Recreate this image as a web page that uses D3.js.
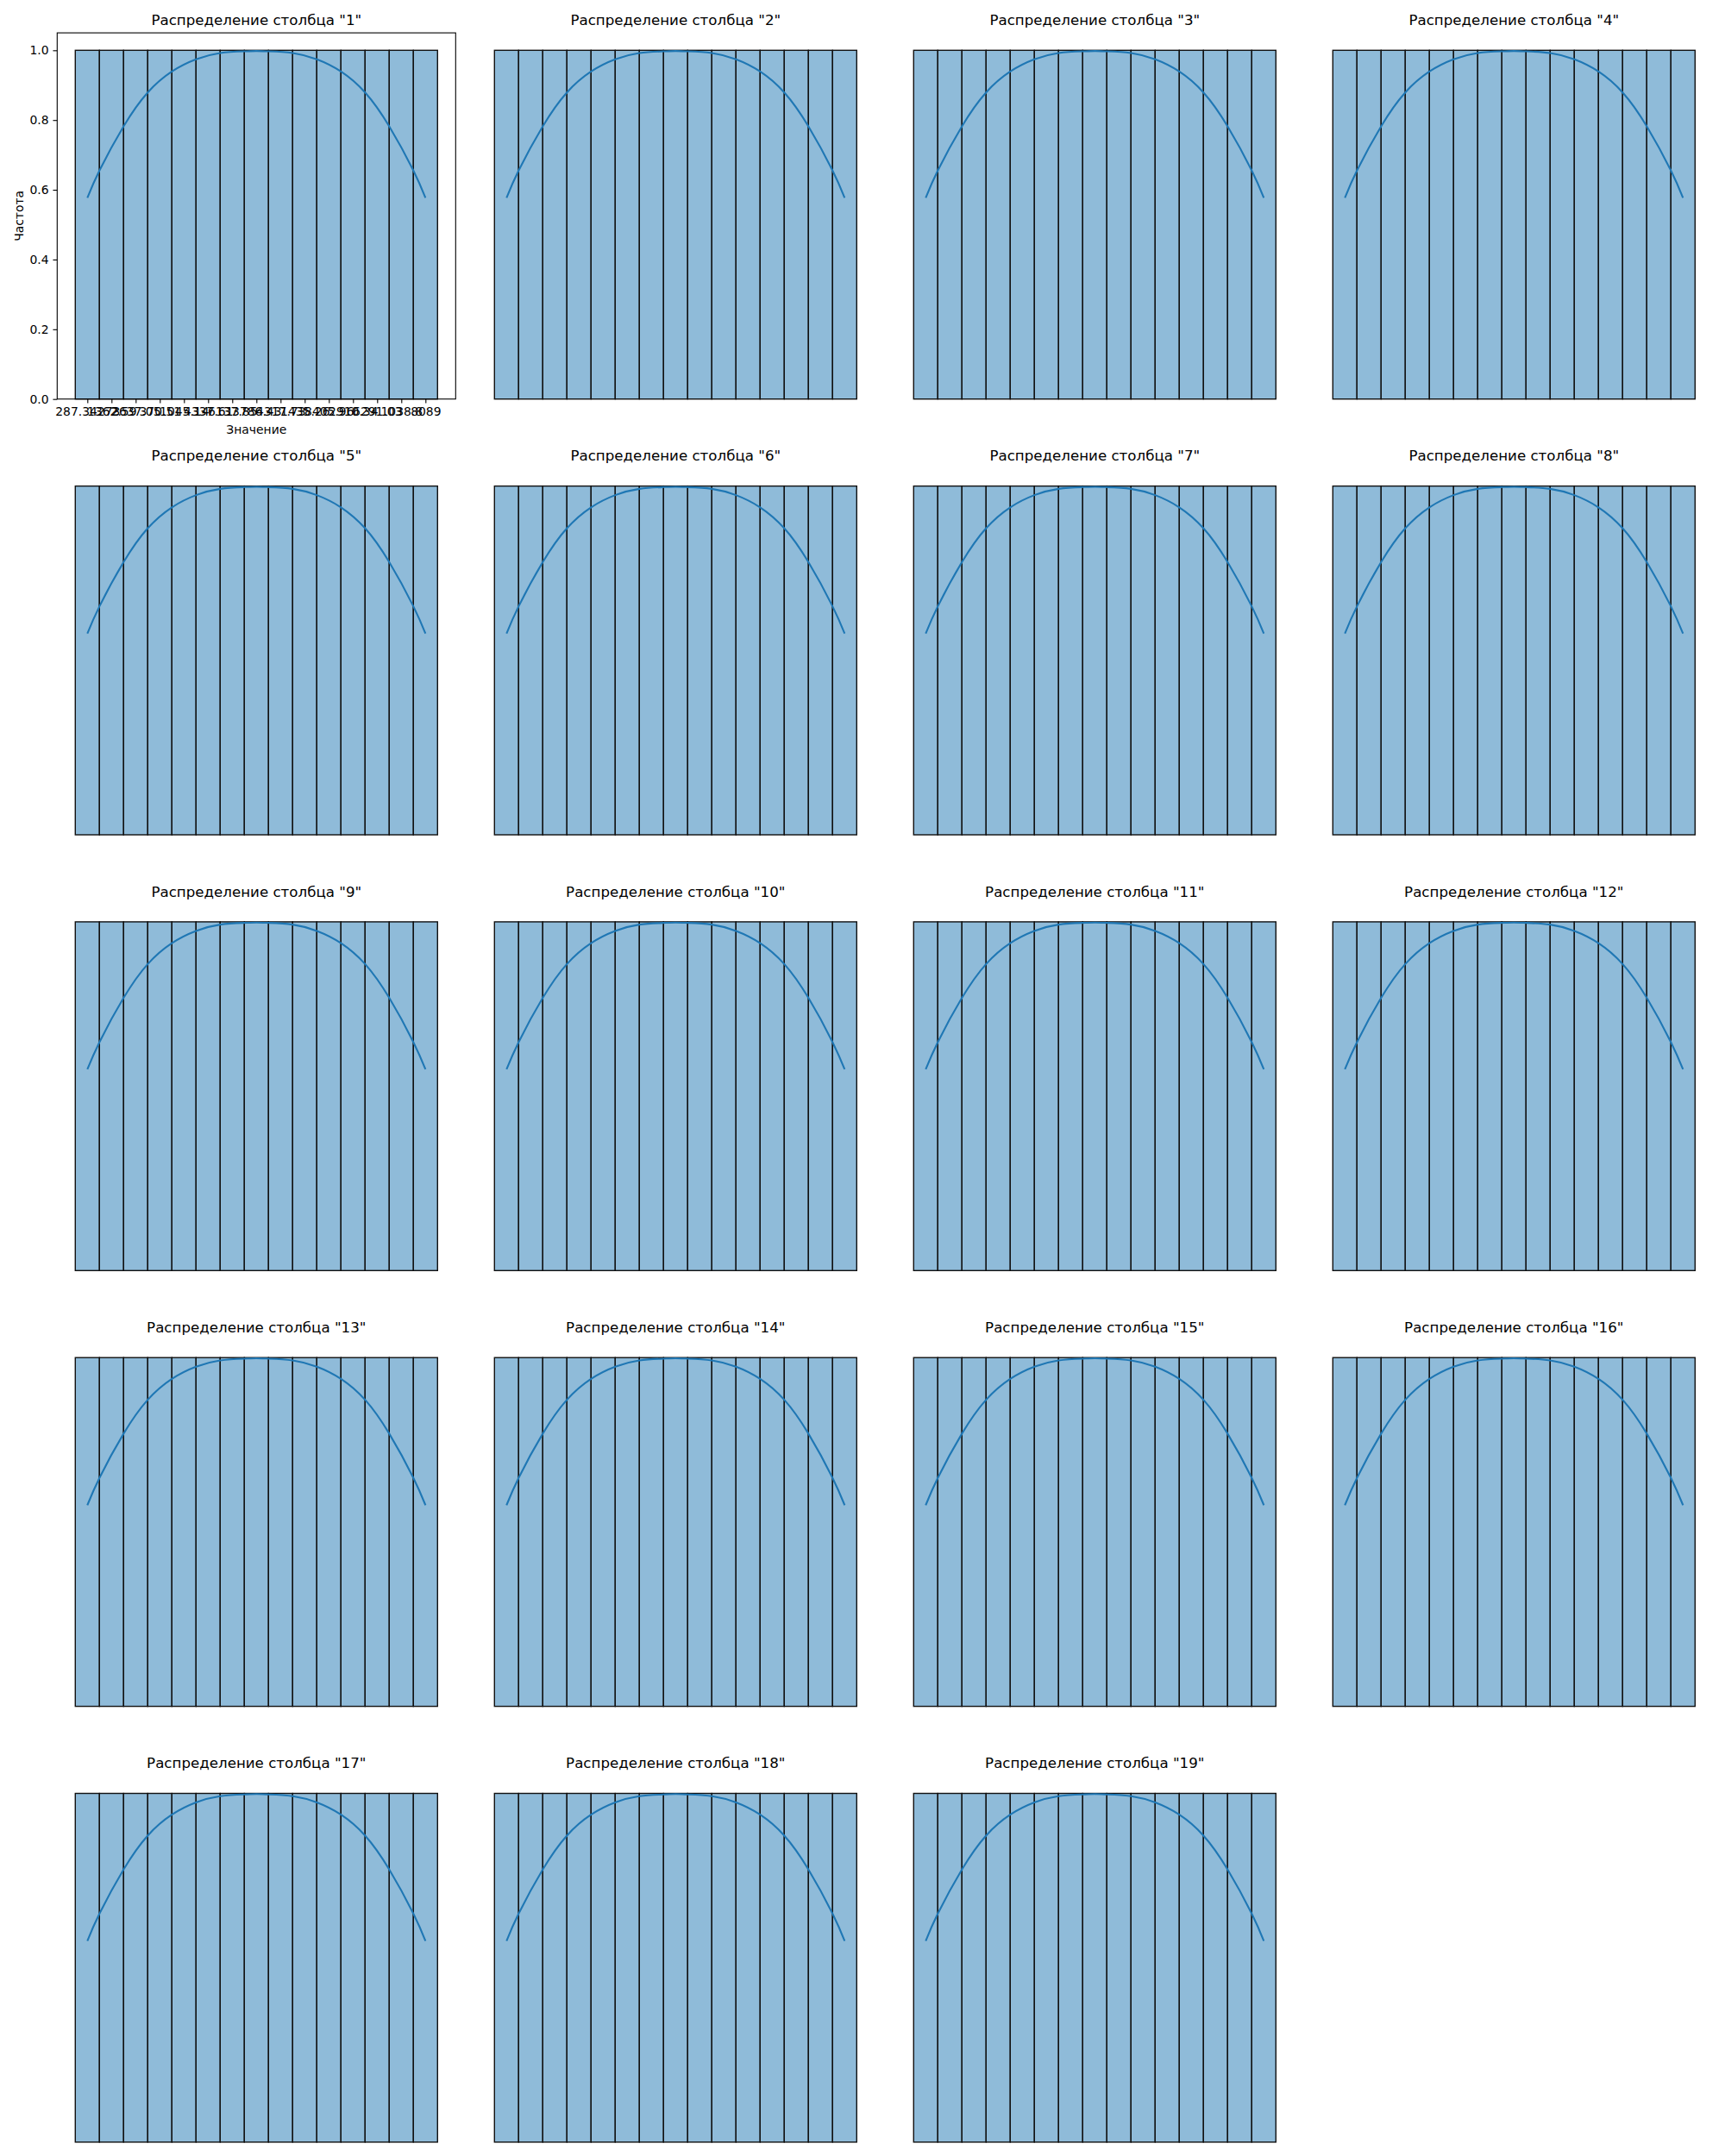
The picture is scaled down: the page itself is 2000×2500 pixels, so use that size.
<!DOCTYPE html>
<html>
<head>
<meta charset="utf-8">
<script src="https://cdn.jsdelivr.net/npm/d3@7"></script>
<style>
  body { margin: 0; background: #fff; }
  text { font-family: "DejaVu Sans", sans-serif; fill: #000; }
</style>
</head>
<body>
<div class="chart"></div>
<script>
var svgWidth = 2000;
var svgHeight = 2500;

// column names of the table (19 columns)
var columns = ["1", "2", "3", "4", "5", "6", "7", "8", "9", "10",
  "11", "12", "13", "14", "15", "16", "17", "18", "19"];

// 15 unique values per column -> every bin has count 1
var categories = d3.range(15);
var counts = [1, 1, 1, 1, 1, 1, 1, 1, 1, 1, 1, 1, 1, 1, 1];

// tick labels on the first subplot (they overlap in the original)
var tickLabels = ["287.34273", "1362.59", "2637.05", "370.51", "1045.14",
  "4337.61", "6137.85", "3786.43", "4317.73", "1435.26", "8405.96",
  "2910.34", "6291.03", "1038.8", "8089"];

var yTicks = [0, 0.2, 0.4, 0.6, 0.8, 1.0];

// kde curve (x in category units, y in count units)
var kdeX = [0, 0.5, 1.5, 2.5, 3.5, 4.5, 5.5, 6.5, 7, 7.5, 8.5, 9.5, 10.5, 11.5, 12.5, 13.5, 14];
var kdeY = [0.577, 0.655, 0.782, 0.879, 0.939, 0.974, 0.992, 0.997, 0.998, 0.997, 0.992, 0.974, 0.939, 0.879, 0.782, 0.655, 0.577];

// grid layout
var nCols = 4;
var axLeft = 66.3, axTop = 38.1;
var axWidth = 462, axHeight = 424.6;
var colStep = 486, rowStep = 505.3;

var svg = d3.select(".chart")
  .append("svg")
  .attr("width", svgWidth)
  .attr("height", svgHeight);

svg.append("rect")
  .attr("width", svgWidth)
  .attr("height", svgHeight)
  .attr("fill", "#fff");

var xScale = d3.scaleLinear()
  .domain([-1.25, 15.25])
  .range([0, axWidth]);

var yScale = d3.scaleLinear()
  .domain([0, 1.05])
  .range([axHeight, 0]);

var kdeLine = d3.line()
  .x(d => xScale(d[0]))
  .y(d => yScale(d[1]))
  .curve(d3.curveNatural);

columns.forEach(function(col, k) {
  var c = k % nCols;
  var r = Math.floor(k / nCols);
  var g = svg.append("g")
    .attr("transform", `translate(${axLeft + c * colStep}, ${axTop + r * rowStep})`);

  // bars
  g.selectAll("rect.bar")
    .data(categories)
    .enter()
    .append("rect")
    .attr("class", "bar")
    .attr("x", d => xScale(d - 0.5))
    .attr("y", d => yScale(counts[d]))
    .attr("width", d => xScale(d + 0.5) - xScale(d - 0.5))
    .attr("height", d => yScale(0) - yScale(counts[d]))
    .attr("fill", "#8fbbd9")
    .attr("stroke", "#111")
    .attr("stroke-width", 1.4);

  // kde
  g.append("path")
    .datum(kdeX.map((x, i) => [x, kdeY[i]]))
    .attr("d", kdeLine)
    .attr("fill", "none")
    .attr("stroke", "#1f77b4")
    .attr("stroke-width", 2.08);

  // title
  g.append("text")
    .attr("x", axWidth / 2)
    .attr("y", -9)
    .attr("text-anchor", "middle")
    .style("font-size", "16.67px")
    .text(`Распределение столбца "${col}"`);

  // only the first subplot keeps its axes
  if (k === 0) {
    var bottomAxis = d3.axisBottom(xScale)
      .tickValues(categories)
      .tickFormat(i => tickLabels[i])
      .tickSize(4.86)
      .tickPadding(4.86)
      .tickSizeOuter(0);
    var leftAxis = d3.axisLeft(yScale)
      .tickValues(yTicks)
      .tickFormat(d3.format(".1f"))
      .tickSize(4.86)
      .tickPadding(4.86)
      .tickSizeOuter(0);

    var xg = g.append("g")
      .attr("transform", `translate(0, ${axHeight})`)
      .call(bottomAxis);
    var yg = g.append("g").call(leftAxis);

    [xg, yg].forEach(function(a) {
      a.select(".domain").remove();
      a.selectAll("line").attr("stroke", "#000").attr("stroke-width", 1.1);
      a.selectAll("text")
        .style("font-size", "13.9px")
        .style("font-family", "DejaVu Sans, sans-serif")
        .attr("fill", "#000");
    });

    // spines
    g.append("rect")
      .attr("width", axWidth)
      .attr("height", axHeight)
      .attr("fill", "none")
      .attr("stroke", "#000")
      .attr("stroke-width", 1.1);

    g.append("text")
      .attr("x", axWidth / 2)
      .attr("y", axHeight + 40.5)
      .attr("text-anchor", "middle")
      .style("font-size", "13.9px")
      .text("Значение");

    g.append("text")
      .attr("transform", "rotate(-90)")
      .attr("x", -axHeight / 2)
      .attr("y", -39.5)
      .attr("text-anchor", "middle")
      .style("font-size", "13.9px")
      .text("Частота");
  }
});
</script>
</body>
</html>
